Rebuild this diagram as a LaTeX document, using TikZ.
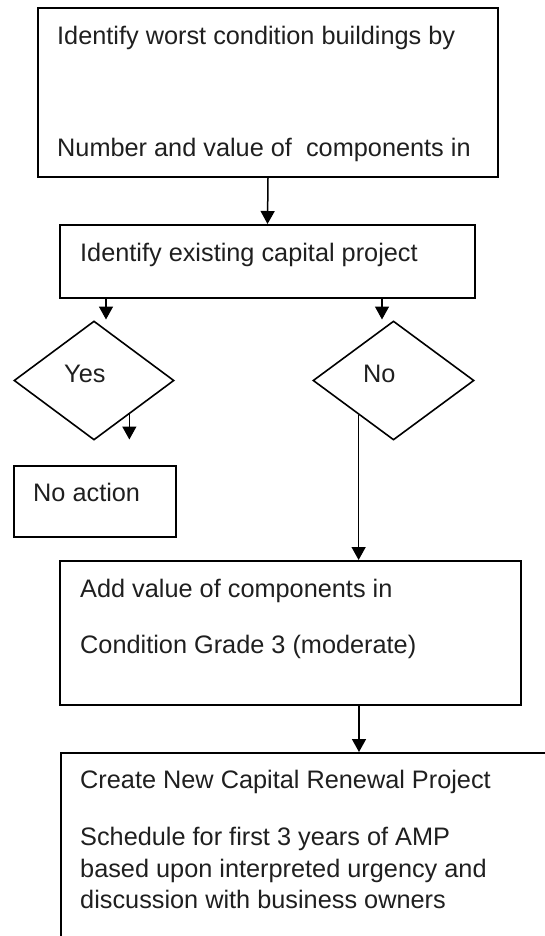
\documentclass[tikz,border=0pt]{standalone}
\usepackage{fontspec}
\setmainfont{Liberation Sans}
\usetikzlibrary{shapes.geometric,arrows.meta,calc}
\begin{document}
\begin{tikzpicture}[x=1pt,y=-1pt,
  box/.style={draw=black, line width=2pt, inner sep=0pt, anchor=north west},
  dia/.style={draw=black, line width=1.6pt, diamond, inner sep=0pt},
  txt/.style={anchor=base west, inner sep=0pt, text=black!88, font=\fontsize{25.3}{31.5}\selectfont},
  arr/.style={line width=1.5pt, -{Triangle[length=13pt,width=14pt]}}]
\useasboundingbox (0,0) rectangle (545,936);
\clip (0,0) rectangle (545,936);
% boxes
\node[box, minimum width=460pt, minimum height=169pt] (b1) at (37,7) {};
\node[box, minimum width=415pt, minimum height=73pt] (b2) at (59,224) {};
\node[dia, minimum width=160pt, minimum height=119pt] (yes) at (94,380.5) {};
\node[dia, minimum width=161pt, minimum height=119pt] (no) at (393.5,380.5) {};
\node[box, minimum width=162pt, minimum height=71pt] (na) at (13,465) {};
\node[box, minimum width=461pt, minimum height=144pt] (add) at (59,560) {};
\node[box, minimum width=500pt, minimum height=220pt] (cr) at (60,752) {};
% texts
\node[txt] (t1a) at (57,45) {Identify worst condition buildings by};
\node[txt] (t1b) at (57,157) {Number and value of\ \ components in};
\node[txt] (t2) at (80,261) {Identify existing capital project};
\node[txt] (ty) at (64,382) {Yes};
\node[txt] (tn) at (363,382) {No};
\node[txt] (tna) at (33,501) {No action};
\node[txt] (tad1) at (80,597) {Add value of components in};
\node[txt] (tad2) at (80,653) {Condition Grade 3 (moderate)};
\node[txt] (tc1) at (80,788) {Create New Capital Renewal Project};
\node[txt] (tc2) at (80,845) {Schedule for first 3 years of AMP};
\node[txt] (tc3) at (80,877) {based upon interpreted urgency and};
\node[txt] (tc4) at (80,908.5) {discussion with business owners};
% connectors
\draw[arr] (b1.south) -- (b2.north);
\coordinate (l1) at ($(b2.south west)+(47,0)$);
\coordinate (l2) at (106,319.5);
\draw[arr] (l1) -- (l2);
\coordinate (r1) at ($(b2.south west)+(323,0)$);
\coordinate (r2) at (382,319.5);
\draw[arr] (r1) -- (r2);
\coordinate (ys) at ($(yes.east)!0.5625!(yes.south)$);
\coordinate (ye) at (ys |- 0,439.5);
\draw[arr] (ys) -- (ye);
\coordinate (ns) at ($(no.west)!0.571!(no.south)$);
\draw[arr] (ns) -- (ns |- add.north);
\coordinate (as) at ($(add.south west)+(300,0)$);
\draw[arr] (as) -- (as |- cr.north);
\end{tikzpicture}
\end{document}
